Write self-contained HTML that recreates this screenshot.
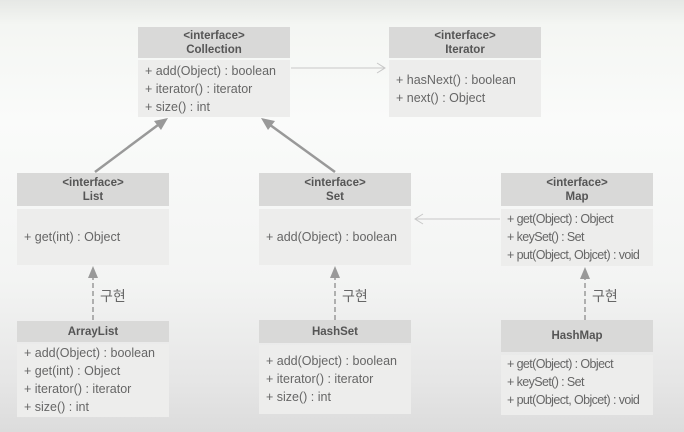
<!DOCTYPE html>
<html><head><meta charset="utf-8"><style>
html,body{margin:0;padding:0}
body{width:684px;height:432px;overflow:hidden;background:linear-gradient(#e6e8e5 0px,#f4f6f3 25px,#fafbfa 120px,#f3f4f3 280px,#e6e6e6 380px,#dcdcdc 432px);font-family:"Liberation Sans","Noto Sans CJK KR",sans-serif;position:relative}
.h{position:absolute;background:#d9d9d8;color:#555;font-size:11.5px;font-weight:bold;text-align:center;line-height:14px;box-sizing:border-box}
.b{position:absolute;background:#ededec;color:#666;font-size:12.5px;line-height:18px;padding-left:7px;box-sizing:border-box;white-space:nowrap}
.t{letter-spacing:-0.6px;padding-left:6px}
.l{position:absolute;font-size:14px;color:#666}
svg{position:absolute;left:0;top:0}
</style></head><body>
<div class="h" style="left:138px;top:27px;width:152px;height:31px;padding-top:2px">&lt;interface&gt;<br>Collection</div>
<div class="b" style="left:138px;top:60px;width:152px;height:57px;padding-top:2px">+ add(Object) : boolean<br>+ iterator() : iterator<br>+ size() : int</div>
<div class="h" style="left:389px;top:27px;width:152px;height:31px;padding-top:2px">&lt;interface&gt;<br>Iterator</div>
<div class="b" style="left:389px;top:60px;width:152px;height:57px;padding-top:11px">+ hasNext() : boolean<br>+ next() : Object</div>

<div class="h" style="left:17px;top:173px;width:152px;height:33px;padding-top:3px">&lt;interface&gt;<br>List</div>
<div class="b" style="left:17px;top:209px;width:152px;height:56px;padding-top:19px">+ get(int) : Object</div>
<div class="h" style="left:259px;top:173px;width:152px;height:33px;padding-top:3px">&lt;interface&gt;<br>Set</div>
<div class="b" style="left:259px;top:209px;width:152px;height:56px;padding-top:19px">+ add(Object) : boolean</div>
<div class="h" style="left:501px;top:173px;width:152px;height:33px;padding-top:3px">&lt;interface&gt;<br>Map</div>
<div class="b t" style="left:501px;top:209px;width:152px;height:57px;padding-top:1px">+ get(Object) : Object<br>+ keySet() : Set<br>+ put(Object, Objcet) : void</div>

<div class="h" style="left:17px;top:321px;width:152px;height:21px;padding-top:4px">ArrayList</div>
<div class="b" style="left:17px;top:344px;width:152px;height:73px;padding-top:0px">+ add(Object) : boolean<br>+ get(int) : Object<br>+ iterator() : iterator<br>+ size() : int</div>
<div class="h" style="left:259px;top:320px;width:152px;height:23px;padding-top:5px">HashSet</div>
<div class="b" style="left:259px;top:345px;width:152px;height:69px;padding-top:7px">+ add(Object) : boolean<br>+ iterator() : iterator<br>+ size() : int</div>
<div class="h" style="left:501px;top:320px;width:152px;height:32px;padding-top:9px">HashMap</div>
<div class="b t" style="left:501px;top:355px;width:152px;height:60px;padding-top:0px">+ get(Object) : Object<br>+ keySet() : Set<br>+ put(Object, Objcet) : void</div>

<div class="l" style="left:100px;top:286px">구현</div>
<div class="l" style="left:342px;top:286px">구현</div>
<div class="l" style="left:592px;top:286px">구현</div>

<svg width="684" height="432">
<g stroke="#999" stroke-width="2.5" fill="none">
<line x1="95" y1="172" x2="162" y2="122"/>
<line x1="335" y1="172" x2="266" y2="122"/>
</g>
<polygon points="168,118 154,121 161,130" fill="#999"/>
<polygon points="261,118 268,130 275,121" fill="#999"/>
<g stroke="#c8c8c8" stroke-width="1" fill="none">
<line x1="291" y1="68" x2="385" y2="68"/>
<polyline points="377,63 385,68 377,73"/>
<line x1="500" y1="219" x2="415" y2="219"/>
<polyline points="423,214 415,219 423,224"/>
</g>
<g stroke="#999" stroke-width="1.5" stroke-dasharray="5,3">
<line x1="93" y1="320" x2="93" y2="276"/>
<line x1="335" y1="320" x2="335" y2="276"/>
<line x1="585" y1="320" x2="585" y2="276"/>
</g>
<g fill="#999">
<polygon points="93,266 88,278 98,278"/>
<polygon points="335,266 330,278 340,278"/>
<polygon points="585,267 580,279 590,279"/>
</g>
</svg>
</body></html>
